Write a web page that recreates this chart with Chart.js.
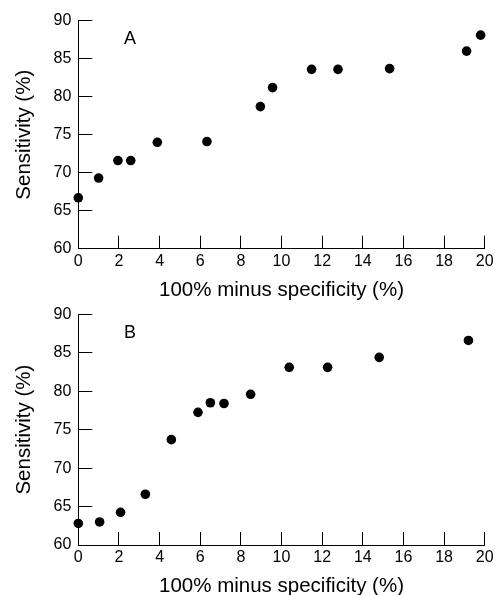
<!DOCTYPE html>
<html>
<head>
<meta charset="utf-8">
<script src="https://cdn.jsdelivr.net/npm/chart.js@4"></script>
<style>
  html, body { margin:0; padding:0; background:#fff; }
  body { width:496px; height:595px; position:relative; overflow:hidden; font-family:"Liberation Sans", Arial, sans-serif; }
  .wrap { position:absolute; left:0; width:496px; }
  .lbl { position:absolute; font-size:18px; color:#000; font-family:"Liberation Sans", Arial, sans-serif; }
</style>
</head>
<body>
<div class="wrap" id="wa" style="top:0;height:300px;"><canvas id="ca"></canvas></div>
<div class="wrap" id="wb" style="top:297px;height:298px;"><canvas id="cb"></canvas></div>
<div class="lbl" style="left:124px;top:28px;">A</div>
<div class="lbl" style="left:124px;top:322px;">B</div>
<script>
// Panel A
const xA = [0, 1.0, 1.95, 2.58, 3.89, 6.33, 8.96, 9.56, 11.48, 12.78, 15.32, 19.11, 19.8];
const yA = [66.7, 69.3, 71.6, 71.6, 74.0, 74.1, 78.7, 81.2, 83.6, 83.6, 83.7, 86.0, 88.1];
// Panel B
const xB = [0, 1.05, 2.08, 3.3, 4.58, 5.89, 6.5, 7.17, 8.48, 10.38, 12.27, 14.81, 19.2];
const yB = [62.8, 63.0, 64.25, 66.6, 73.7, 77.25, 78.5, 78.4, 79.6, 83.1, 83.1, 84.4, 86.6];

const xTitle = "100% minus specificity (%)";
const yTitle = "Sensitivity (%)";
const xMin = 0, xMax = 20, xStep = 2;
const yMin = 60, yMax = 90, yStep = 5;

const FONT = "'Liberation Sans', Arial, sans-serif";

function makeChart(id, xs, ys, padTop, xAxisH, titleBottomPad) {
  const pts = xs.map((x, i) => ({ x: x, y: ys[i] }));
  return new Chart(document.getElementById(id), {
    type: 'scatter',
    data: { datasets: [{ data: pts, backgroundColor: '#000', borderColor: '#000',
      pointRadius: 4.8, pointHoverRadius: 4.8, borderWidth: 0, clip: false }] },
    options: {
      responsive: true, maintainAspectRatio: false, animation: false,
      events: [],
      layout: { padding: { top: padTop, right: 11.3, left: 0, bottom: 0 } },
      plugins: { legend: { display: false }, tooltip: { enabled: false } },
      scales: {
        x: {
          type: 'linear', min: xMin, max: xMax,
          ticks: { stepSize: xStep, color: '#000', font: { family: FONT, size: 16 }, padding: 16, maxRotation: 0 },
          grid: { drawOnChartArea: false, drawTicks: true, tickLength: -13, color: '#000', lineWidth: 1 },
          border: { display: true, color: '#000', width: 1 },
          title: { display: true, text: xTitle, color: '#000', font: { family: FONT, size: 20.5 }, padding: { top: 0, bottom: titleBottomPad } },
          afterFit: (s) => { s.height = xAxisH; s.paddingLeft = 0; s.paddingRight = 0; }
        },
        y: {
          type: 'linear', min: yMin, max: yMax,
          ticks: { stepSize: yStep, color: '#000', font: { family: FONT, size: 16 }, padding: 21 },
          grid: { drawOnChartArea: false, drawTicks: true, tickLength: -14, color: '#000', lineWidth: 1 },
          border: { display: true, color: '#000', width: 1 },
          title: { display: true, text: yTitle, color: '#000', font: { family: FONT, size: 20.5 }, padding: { top: 11.7, bottom: 0 } },
          afterFit: (s) => { s.width = 78.3; s.paddingTop = 0; s.paddingBottom = 0; }
        }
      }
    }
  });
}

makeChart('ca', xA, yA, 20.7, 51.3, -2.3);
makeChart('cb', xB, yB, 17.3, 50, -4);
</script>
</body>
</html>
